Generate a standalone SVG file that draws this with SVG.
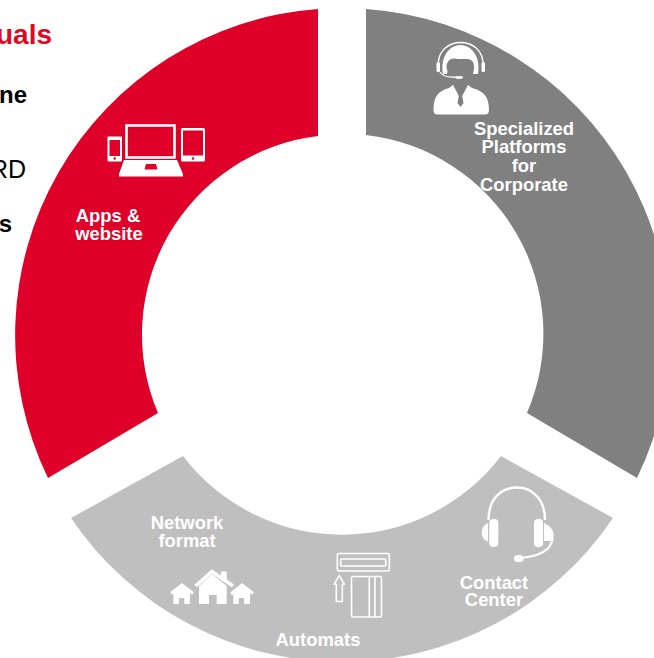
<svg xmlns="http://www.w3.org/2000/svg" width="654" height="658" viewBox="0 0 654 658">
<style>
text{font-family:"Liberation Sans",Arial,sans-serif}
.l{font-size:18.4px;font-weight:700;fill:#fff;text-anchor:middle}
.h{font-size:24px;font-weight:700;fill:#000;text-anchor:end}
.w{fill:#fff}
.o{fill:none;stroke:#fff;stroke-width:1.6;stroke-linejoin:round}
</style>
<rect width="654" height="658" fill="#fff"/>
<g id="left-text">
<text x="52" y="44" style="font-size:28px;font-weight:700;fill:#de0a1e;text-anchor:end">uals</text>
<text class="h" x="27" y="103">ne</text>
<text x="26" y="178" style="font-size:25px;fill:#000;text-anchor:end">RD</text>
<text class="h" x="12" y="232">s</text>
</g>
<g id="segment-apps">
<path d="M318 9A327 327 0 0 0 48 478L158 413A200 200 0 0 1 318 136Z" fill="#df0029"/>
<g id="icon-devices">
<rect x="126.500" y="125.500" width="48" height="32" fill="none" stroke="#fff" stroke-width="2.600"/>
<path class="w" d="M124 160H177L183 174V176.500H119V174Z"/>
<path fill="#df0029" d="M146 164H156L157.500 169.500H144.500Z"/>
<rect class="w" x="107.500" y="136.500" width="14.500" height="25" rx="1"/>
<rect x="109.500" y="140" width="10.500" height="16" fill="#df0029"/>
<circle cx="114.700" cy="158.500" r="1.200" fill="#df0029"/>
<rect class="w" x="181" y="128" width="24" height="33.500" rx="1.500"/>
<rect x="183" y="130.500" width="20" height="25" fill="#df0029"/>
<circle cx="193" cy="158.500" r="1.300" fill="#df0029"/>
</g>
<text class="l"><tspan x="108" y="222">Apps &amp;</tspan><tspan x="109" y="240">website</tspan></text>
</g>
<g id="segment-corporate">
<path d="M366 9A327 327 0 0 1 637 478L527 413A200 200 0 0 0 366 135Z" fill="#808080"/>
<g id="icon-agent">
<path class="w" d="M433.500 110C433.500 97 438 91 449 88L453 85L460.500 99L468 85L472 88C484 91 489 97 489 110Q489 114.500 485 114.500H437.500Q433.500 114.500 433.500 110Z"/>
<path class="w" d="M443 74C440 56 450 45 460.500 45C471 45 481 56 478 74H473L470 62H450L447 74Z"/>
<path fill="#808080" d="M446.500 68C446 60 452 57 458 59C464 59 471 58 473 62C475 66 474 72 472 76C469 80 465 84 460.500 84C455 84 451 80 449 76Z"/>
<path fill="none" stroke="#fff" stroke-width="1.300" d="M438.500 66C437 50 450 42.500 460.500 42.500C472 42.500 484 50 483 66"/>
<rect class="w" x="436.500" y="62" width="3.500" height="10" rx="1.500"/>
<rect class="w" x="481.500" y="62" width="3.500" height="10" rx="1.500"/>
<path fill="none" stroke="#fff" stroke-width="1.300" d="M440 72Q444 78 455 77"/>
<ellipse class="w" cx="459" cy="77.500" rx="4" ry="1.400"/>
<path fill="#808080" d="M458 93L459.500 91H461.500L463 93L462 95L463.500 103L460.500 107L457.500 103L459 95Z"/>
</g>
<text class="l"><tspan x="524" y="135">Specialized</tspan><tspan x="524" y="153">Platforms</tspan><tspan x="524" y="172">for</tspan><tspan x="524" y="191">Corporate</tspan></text>
</g>
<g id="segment-channels">
<path d="M71 518A327 327 0 0 0 613 518L501 456A200 200 0 0 1 183 456Z" fill="#bfbfbf"/>
<g id="node-network">
<g id="icon-houses">
<path class="w" d="M199 604V586L212 574L226.700 586V604H216.700V595H209V604Z"/>
<path fill="none" stroke="#fff" stroke-width="3.600" d="M195.500 586L212 571.500L233 586"/>
<rect class="w" x="221" y="571.500" width="5.700" height="9"/>
<path class="w" d="M173.300 604V593L182 586L190 593V604H184.300V598H179V604Z"/>
<path fill="none" stroke="#fff" stroke-width="3" d="M171 593.500L182 585L193 593.500"/>
<path class="w" d="M233.300 604V593L242 586L250 593V604H244V598H238.700V604Z"/>
<path fill="none" stroke="#fff" stroke-width="3" d="M231 594L242 585L253 593.500"/>
</g>
<text class="l"><tspan x="187" y="529">Network</tspan><tspan x="187" y="547">format</tspan></text>
</g>
<g id="node-automats">
<g id="icon-automat">
<rect class="o" x="337.300" y="553.500" width="52" height="17.500" rx="2"/>
<rect class="o" x="340.700" y="559" width="45" height="7" rx="1"/>
<rect class="o" x="351.500" y="576.500" width="30" height="40.500" rx="1.500"/>
<path class="o" d="M369.300 576.500V617M375 576.500V617"/>
<path class="o" d="M339.300 575.700L344.500 584.300H342.300V601.500H336.300V584.300H334Z"/>
</g>
<text class="l" x="318" y="646">Automats</text>
</g>
<g id="node-contact">
<g id="icon-headset">
<path fill="none" stroke="#fff" stroke-width="2.400" d="M488.500 520C488.500 500 500 487.500 516.700 487.500C533 487.500 545 500 545 520"/>
<rect class="w" x="489.300" y="519" width="9" height="28" rx="4"/>
<rect class="w" x="534" y="519" width="9" height="28" rx="4"/>
<path class="w" d="M488 523C483.500 525 481.700 529 481.700 532.500C481.700 537 484 540.500 488 541.500Z"/>
<path class="w" d="M544 523C549 525 553.500 530 553.500 534V541H544Z"/>
<path fill="none" stroke="#fff" stroke-width="2" d="M552.500 539C551 550 540 556 521 558"/>
<rect class="w" x="514" y="555" width="9.500" height="7" rx="3.500"/>
</g>
<text class="l"><tspan x="494" y="589">Contact</tspan><tspan x="494" y="606">Center</tspan></text>
</g>
</g>
</svg>
